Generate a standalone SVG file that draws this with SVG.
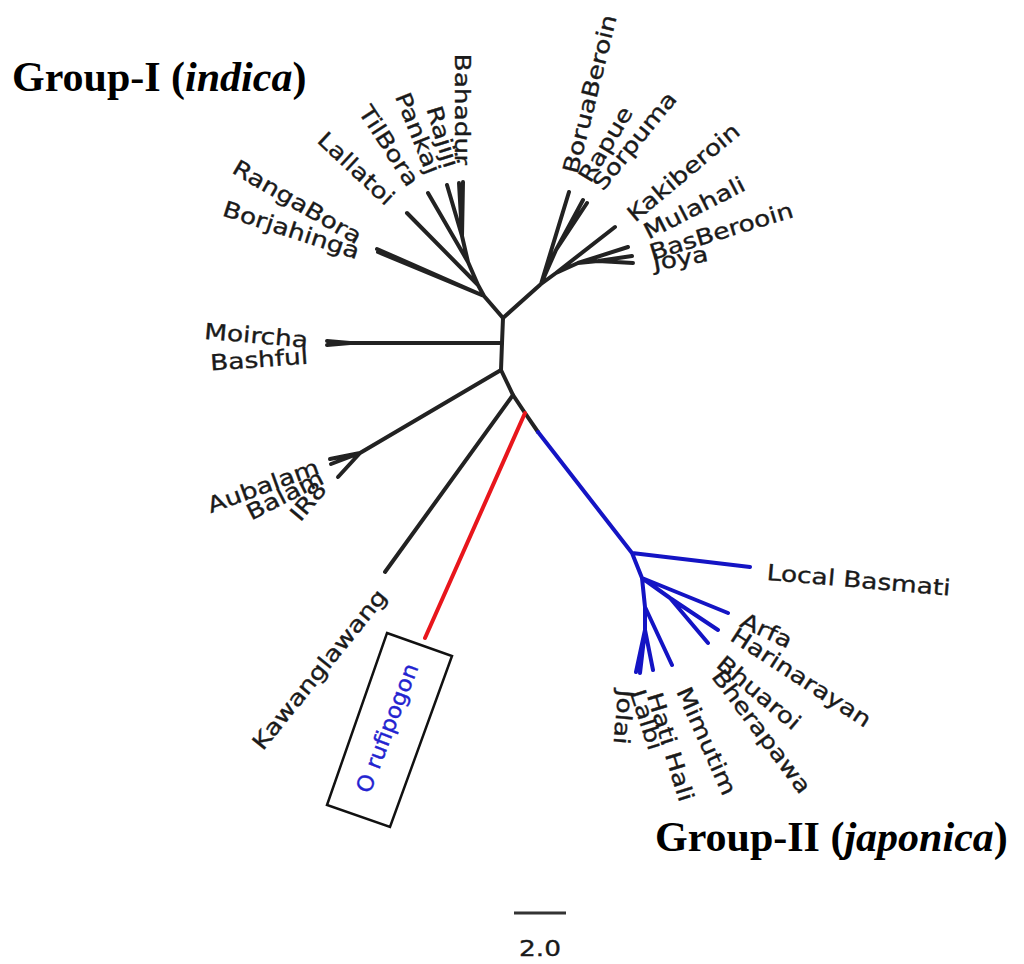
<svg xmlns="http://www.w3.org/2000/svg" width="1024" height="964" viewBox="0 0 1024 964">
<style>
.br{fill:none;stroke:#222;stroke-width:4;stroke-linecap:round;stroke-linejoin:round}
.red{stroke:#e8161c}
.blue{stroke:#1414c4}
.lb{font-family:"DejaVu Sans",sans-serif;font-size:22px;fill:#1a1a1a;stroke:#1a1a1a;stroke-width:0.35}
.e{text-anchor:end}
.title{font-family:"Liberation Serif",serif;font-size:42px;font-weight:bold;fill:#000}
</style>
<rect width="1024" height="964" fill="#fff"/>
<g id="connectors">
<path class="br" d="M503,318 L502,343 L501,370 L513,395 L525,413 L538,432"/>
<path class="br" d="M502,343 L350,343 L327,341 M350,343 L327,345"/>
<path class="br" d="M501,370 L360,453 L330,459 M360,453 L331,464 M360,453 L338,477"/>
<path class="br" d="M513,395 L385,572"/>
<path class="br" d="M503,318 L484,296 L377,249 M484,296 L378,252 M484,296 L478,285 L407,213 M478,285 L468,262 L428,193 M468,262 L462,236 L447,185 M462,236 L459,183 M462,236 L463,182"/>
<path class="br" d="M503,318 L541,284 L569,192 M541,284 L556,250 L583,200 M556,250 L587,203 M541,284 L556,273 L615,227 M556,273 L578,263 L628,247 M578,263 L598,261 L632,256 M598,261 L633,263"/>
<path class="br red" d="M525,413 L425,638"/>
<path class="br blue" d="M538,432 L632,553 L750,567 M632,553 L642,578 L728,613 M642,578 L670,598 L718,630 M670,598 L708,643 M642,578 L645,607 L672,665 M645,607 L645,630 L653,670 M645,630 L636,672 M645,630 L640,673"/>
</g>
<g id="n-bahadur"><text class="lb e" transform="translate(463,165) rotate(90) scale(1.2,1)" dy=".35em">Bahadur</text></g>
<g id="n-rajiji"><text class="lb e" transform="translate(452,167) rotate(73) scale(1.2,1)" dy=".35em">Rajiji</text></g>
<g id="n-pankaj"><text class="lb e" transform="translate(434,173) rotate(68) scale(1.2,1)" dy=".35em">Pankaj</text></g>
<g id="n-tilbora"><text class="lb e" transform="translate(414,184) rotate(57) scale(1.2,1)" dy=".35em">TilBora</text></g>
<g id="n-lallatoi"><text class="lb e" transform="translate(391,201) rotate(43) scale(1.2,1)" dy=".35em">Lallatoi</text></g>
<g id="n-rangabora"><text class="lb e" transform="translate(360,238) rotate(30) scale(1.2,1)" dy=".35em">RangaBora</text></g>
<g id="n-borjahinga"><text class="lb e" transform="translate(359,252) rotate(18) scale(1.2,1)" dy=".35em">Borjahinga</text></g>
<g id="n-moircha"><text class="lb e" transform="translate(308,340) rotate(5) scale(1.2,1)" dy=".35em">Moircha</text></g>
<g id="n-bashful"><text class="lb e" transform="translate(308,356) rotate(-4) scale(1.2,1)" dy=".35em">Bashful</text></g>
<g id="n-aubalam"><text class="lb e" transform="translate(318,466) rotate(-20) scale(1.2,1)" dy=".35em">Aubalam</text></g>
<g id="n-balam"><text class="lb e" transform="translate(322,476) rotate(-27) scale(1.2,1)" dy=".35em">Balam</text></g>
<g id="n-ir8"><text class="lb e" transform="translate(322,485) rotate(-50) scale(1.2,1)" dy=".35em">IR8</text></g>
<g id="n-kawanglawang"><text class="lb e" transform="translate(382,592) rotate(-51) scale(1.2,1)" dy=".35em">Kawanglawang</text></g>
<g id="n-rufipogon">
<polygon points="387,633 452,656 390,827 327,805" fill="none" stroke="#111" stroke-width="2.5"/>
<text class="lb" style="fill:#2323d0;stroke:#2323d0;text-anchor:middle" transform="translate(387,728) rotate(-69) scale(1.05,1)" dy=".35em">O rufipogon</text>
</g>
<g id="n-boruaberoin"><text class="lb" transform="translate(570,173) rotate(-76) scale(1.2,1)" dy=".35em">BoruaBeroin</text></g>
<g id="n-rapue"><text class="lb" transform="translate(584,180) rotate(-59) scale(1.2,1)" dy=".35em">Rapue</text></g>
<g id="n-sorpuma"><text class="lb" transform="translate(597,187) rotate(-51) scale(1.2,1)" dy=".35em">Sorpuma</text></g>
<g id="n-kakiberoin"><text class="lb" transform="translate(630,217) rotate(-40) scale(1.2,1)" dy=".35em">Kakiberoin</text></g>
<g id="n-mulahali"><text class="lb" transform="translate(645,233) rotate(-27) scale(1.2,1)" dy=".35em">Mulahali</text></g>
<g id="n-basberooin"><text class="lb" transform="translate(650,253) rotate(-17) scale(1.2,1)" dy=".35em">BasBerooin</text></g>
<g id="n-joya"><text class="lb" transform="translate(653,263) rotate(-10) scale(1.2,1)" dy=".35em">Joya</text></g>
<g id="n-localbasmati"><text class="lb" transform="translate(767,572) rotate(5) scale(1.2,1)" dy=".35em">Local Basmati</text></g>
<g id="n-arfa"><text class="lb" transform="translate(742,619) rotate(25) scale(1.2,1)" dy=".35em">Arfa</text></g>
<g id="n-harinarayan"><text class="lb" transform="translate(733,633) rotate(33) scale(1.2,1)" dy=".35em">Harinarayan</text></g>
<g id="n-bhuaroi"><text class="lb" transform="translate(720,660) rotate(40) scale(1.2,1)" dy=".35em">Bhuaroi</text></g>
<g id="n-bherapawa"><text class="lb" transform="translate(717,672) rotate(53) scale(1.2,1)" dy=".35em">Bherapawa</text></g>
<g id="n-mimutim"><text class="lb" transform="translate(683,688) rotate(66) scale(1.2,1)" dy=".35em">Mimutim</text></g>
<g id="n-hatihali"><text class="lb" transform="translate(654,693) rotate(73) scale(1.2,1)" dy=".35em">Hati Hali</text></g>
<g id="n-lalbi"><text class="lb" transform="translate(637,690) rotate(72) scale(1.2,1)" dy=".35em">Lalbi</text></g>
<g id="n-jolai"><text class="lb" transform="translate(626,690) rotate(95) scale(1.2,1)" dy=".35em">Jolai</text></g>
<g id="group-1"><text class="title" x="12" y="91">Group-I (<tspan font-style="italic">indica</tspan>)</text></g>
<g id="group-2"><text class="title" x="655" y="851">Group-II (<tspan font-style="italic">japonica</tspan>)</text></g>
<g id="scale-bar">
<line x1="514" y1="913" x2="566" y2="913" stroke="#333" stroke-width="3"/>
<text class="lb" style="text-anchor:middle" transform="translate(540,956) scale(1.2,1)">2.0</text>
</g>
</svg>
